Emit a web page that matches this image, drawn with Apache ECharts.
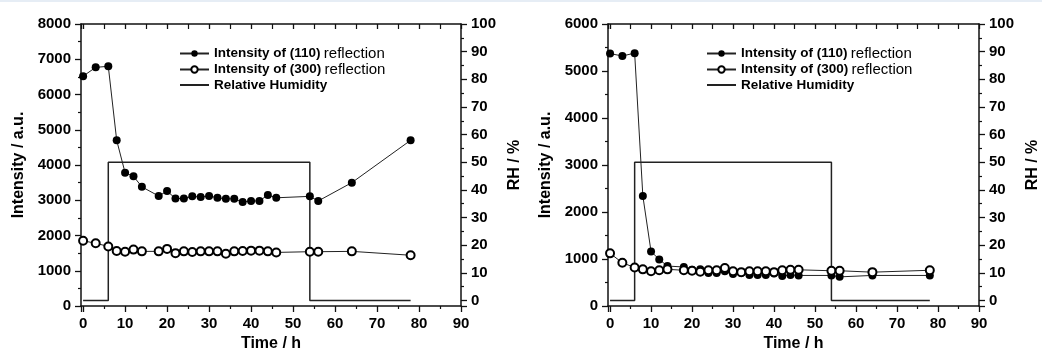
<!DOCTYPE html>
<html>
<head>
<meta charset="utf-8">
<script src="https://cdn.jsdelivr.net/npm/echarts@6/dist/echarts.min.js"></script>
<style>
  html, body { margin: 0; padding: 0; background: #fff; }
  #chart { width: 1042px; height: 358px; }
</style>
</head>
<body>
<div id="chart"></div>
<script>
// ---- data ----
var times = [0, 3, 6, 8, 10, 12, 14, 18, 20, 22, 24, 26, 28, 30, 32, 34, 36, 38, 40, 42, 44, 46, 54, 56, 64, 78];

// left panel
var int110Left = [6520, 6770, 6800, 4700, 3780, 3680, 3380, 3120, 3260, 3050, 3050, 3110, 3090, 3120, 3070, 3040, 3040, 2950, 2980, 2980, 3150, 3070, 3110, 2980, 3500, 4700];
var int300Left = [1850, 1780, 1690, 1560, 1540, 1600, 1550, 1550, 1620, 1500, 1550, 1530, 1550, 1550, 1550, 1480, 1550, 1560, 1570, 1570, 1550, 1520, 1540, 1540, 1550, 1440];

// right panel
var int110Right = [5370, 5320, 5380, 2340, 1160, 990, 850, 830, 770, 780, 700, 700, 740, 680, 700, 660, 660, 660, 690, 640, 660, 650, 650, 620, 650, 650];
var int300Right = [1120, 920, 820, 780, 740, 760, 780, 760, 750, 730, 760, 760, 810, 740, 720, 740, 740, 740, 720, 760, 770, 770, 750, 750, 720, 760];

// relative humidity program (step changes)
var rhTimes = [0, 6, 54, 78];
var rhValues = [0, 50, 0, 0];

var name110 = 'Intensity of (110) reflection';
var name300 = 'Intensity of (300) reflection';
var nameRH = 'Relative Humidity';

var FONT = "'Liberation Sans', Arial, Helvetica, sans-serif";

function pairs(xs, ys) { return xs.map(function (x, i) { return [x, ys[i]]; }); }

var axisLineStyle = { color: '#111', width: 1.5 };

function xBottom(grid) {
  return {
    type: 'value', gridIndex: grid, position: 'bottom', min: -0.5, max: 90,
    minInterval: 10, maxInterval: 10,
    axisLine: { show: true, onZero: false, lineStyle: axisLineStyle },
    axisTick: { show: true, inside: false, length: 6, lineStyle: { color: '#111', width: 1.3 } },
    minorTick: { show: true, splitNumber: 2, length: 3, lineStyle: { color: '#111', width: 1.2 } },
    splitLine: { show: false },
    axisLabel: {
      margin: 10, color: '#000', fontWeight: 'bold', fontSize: 15, fontFamily: FONT,
      formatter: function (v) { return (Math.abs(v % 10) < 1e-9) ? String(v) : ''; }
    },
    name: 'Time / h', nameLocation: 'middle', nameGap: 29,
    nameTextStyle: { color: '#000', fontWeight: 'bold', fontSize: 16, fontFamily: FONT }
  };
}
function xTop(grid) {
  return {
    type: 'value', gridIndex: grid, position: 'top', min: -0.5, max: 90,
    minInterval: 10, maxInterval: 10,
    axisLine: { show: true, onZero: false, lineStyle: axisLineStyle },
    axisTick: { show: true, inside: true, length: 5, lineStyle: { color: '#111', width: 1.3 } },
    minorTick: { show: true, splitNumber: 2, length: 5, lineStyle: { color: '#111', width: 1.2 } },
    splitLine: { show: false },
    axisLabel: { show: false }
  };
}
function yLeft(grid, max) {
  return {
    type: 'value', gridIndex: grid, position: 'left', min: 0, max: max, interval: 1000,
    axisLine: { show: true, onZero: false, lineStyle: axisLineStyle },
    axisTick: { show: true, inside: false, length: 6, lineStyle: { color: '#111', width: 1.3 } },
    minorTick: { show: true, splitNumber: 2, length: 3, lineStyle: { color: '#111', width: 1.2 } },
    splitLine: { show: false },
    axisLabel: {
      margin: 10, color: '#000', fontWeight: 'bold', fontSize: 15, fontFamily: FONT,
      formatter: function (v) { return String(v); }
    },
    name: 'Intensity / a.u.', nameLocation: 'middle', nameGap: 54,
    nameTextStyle: { color: '#000', fontWeight: 'bold', fontSize: 16, fontFamily: FONT }
  };
}
function yRight(grid) {
  return {
    type: 'value', gridIndex: grid, position: 'right', min: -2, max: 100,
    minInterval: 10, maxInterval: 10,
    axisLine: { show: true, onZero: false, lineStyle: axisLineStyle },
    axisTick: { show: true, inside: false, length: 6, lineStyle: { color: '#111', width: 1.3 } },
    minorTick: { show: true, splitNumber: 2, length: 3, lineStyle: { color: '#111', width: 1.2 } },
    splitLine: { show: false },
    axisLabel: {
      margin: 10, color: '#000', fontWeight: 'bold', fontSize: 15, fontFamily: FONT,
      formatter: function (v) { return (v >= 0 && Math.abs(v % 10) < 1e-9) ? String(v) : ''; }
    },
    name: 'RH / %', nameLocation: 'middle', nameGap: 46,
    nameTextStyle: { color: '#000', fontWeight: 'bold', fontSize: 16, fontFamily: FONT }
  };
}

function seriesFor(xIdx, yIdxLeft, yIdxRight, d110, d300) {
  return [
    {
      name: nameRH, type: 'line', xAxisIndex: xIdx, yAxisIndex: yIdxRight,
      data: pairs(rhTimes, rhValues), step: 'end', symbol: 'none', showSymbol: false,
      lineStyle: { color: '#222', width: 1.5 }, itemStyle: { color: '#222' }, z: 1, silent: true
    },
    {
      name: name110, type: 'line', xAxisIndex: xIdx, yAxisIndex: yIdxLeft,
      data: pairs(times, d110), symbol: 'circle', symbolSize: 8,
      lineStyle: { color: '#222', width: 1 }, itemStyle: { color: '#000' }, z: 2, silent: true
    },
    {
      name: name300, type: 'line', xAxisIndex: xIdx, yAxisIndex: yIdxLeft,
      data: pairs(times, d300), symbol: 'emptyCircle', symbolSize: 8,
      lineStyle: { color: '#222', width: 1 }, itemStyle: { color: '#000', borderWidth: 1 }, z: 3, silent: true
    }
  ];
}

function legendAt(left) {
  return {
    left: left, top: 41, orient: 'vertical', itemWidth: 29, itemHeight: 8, itemGap: 1,
    selectedMode: false,
    data: [name110, name300, { name: nameRH, itemStyle: { opacity: 0 } }],
    formatter: function (n) {
      if (n.indexOf(' reflection') > 0) {
        return '{b|' + n.replace(' reflection', '') + '} {r|reflection}';
      }
      return '{b|' + n + '}';
    },
    textStyle: {
      color: '#000', fontFamily: FONT,
      rich: {
        b: { fontWeight: 'bold', fontSize: 13.5, fontFamily: FONT, color: '#000', lineHeight: 16 },
        r: { fontWeight: 'normal', fontSize: 15, fontFamily: FONT, color: '#000', lineHeight: 16 }
      }
    }
  };
}

var chart = echarts.init(document.getElementById('chart'), null, { renderer: 'canvas' });
chart.setOption({
  animation: false,
  backgroundColor: '#fff',
  textStyle: { fontFamily: FONT },
  graphic: [{ type: 'rect', shape: { x: 0, y: 0, width: 1042, height: 2 }, style: { fill: '#e6edf5' }, silent: true }],
  grid: [
    { left: 81, top: 24, width: 380, height: 282 },
    { left: 608, top: 24, width: 379, height: 282 }
  ],
  xAxis: [xBottom(0), xTop(0), xBottom(1), xTop(1)],
  yAxis: [yLeft(0, 8000), yRight(0), yLeft(1, 6000), yRight(1)],
  legend: [legendAt(174), legendAt(701)],
  series: [].concat(
    seriesFor(0, 0, 1, int110Left, int300Left),
    seriesFor(2, 2, 3, int110Right, int300Right)
  )
});
</script>
</body>
</html>
